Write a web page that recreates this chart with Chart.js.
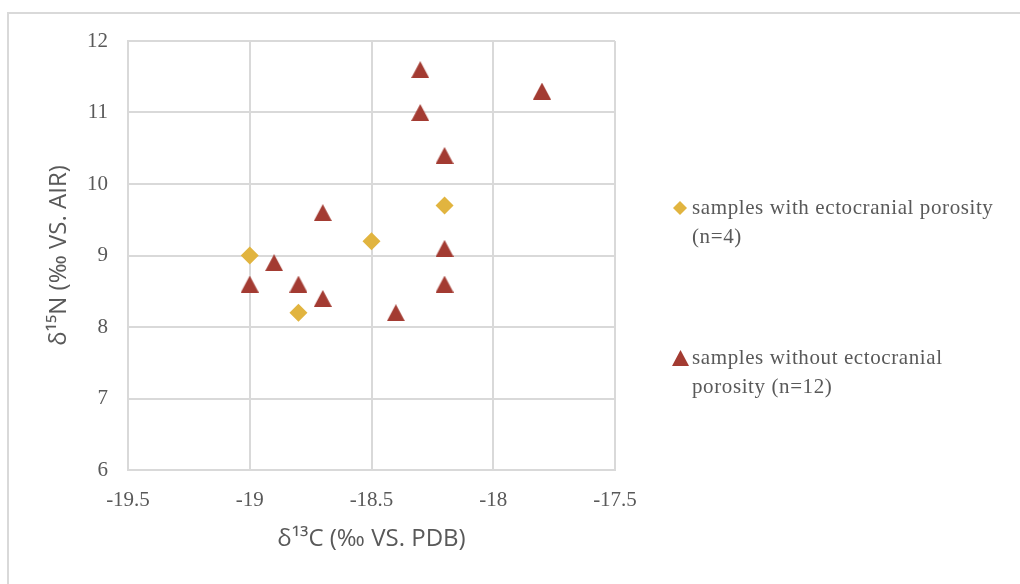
<!DOCTYPE html>
<html>
<head>
<meta charset="utf-8">
<script src="https://cdn.jsdelivr.net/npm/chart.js@4.4.1/dist/chart.umd.min.js"></script>
<style>
  html, body { margin: 0; padding: 0; background: #fff; overflow: hidden; }
  #wrap { position: relative; width: 1020px; height: 584px; overflow: hidden; }
  #frame { position: absolute; left: 7px; top: 12px; width: 1100px; height: 700px;
           border-left: 2px solid #d9d9d9; border-top: 2px solid #d9d9d9; }
  #myChart { position: absolute; left: 0; top: 0; }
  #legend { position: absolute; left: 668px; top: 0; font-family: "Liberation Serif", serif;
            font-size: 21px; letter-spacing: 0.6px; color: #595959; }
  .leg-item { position: absolute; left: 0; width: 345px; }
  .leg-item img { position: absolute; }
  .leg-item span { display: block; margin-left: 24px; width: 312px; line-height: 29px; }
</style>
</head>
<body>
<div id="wrap">
  <div id="frame"></div>
  <canvas id="myChart" width="1020" height="584"></canvas>
  <div id="legend"></div>
</div>
<script>
const seriesNames = ['samples with ectocranial porosity (n=4)', 'samples without ectocranial porosity (n=12)'];
const seriesColors = ['#e1b43f', '#a33b32'];

// delta 13C (x) and delta 15N (y)
const porousC = [-19.0, -18.8, -18.5, -18.2];
const porousN = [9.0, 8.2, 9.2, 9.7];
const plainC = [-18.3, -17.8, -18.3, -18.2, -18.7, -18.2, -18.9, -19.0, -18.8, -18.2, -18.7, -18.4];
const plainN = [11.6, 11.3, 11.0, 10.4, 9.6, 9.1, 8.9, 8.6, 8.6, 8.6, 8.4, 8.2];

const xTicks = [-19.5, -19, -18.5, -18, -17.5];
const yTicks = [6, 7, 8, 9, 10, 11, 12];

const xTitle = 'δ¹³C (‰ VS. PDB)';
const yTitle = 'δ¹⁵N (‰ VS. AIR)';

function makeTriangle(w, h, color) {
  const c = document.createElement('canvas');
  c.width = w; c.height = h;
  const g = c.getContext('2d');
  g.fillStyle = color;
  g.beginPath();
  g.moveTo(w / 2, 0);
  g.lineTo(w, h);
  g.lineTo(0, h);
  g.closePath();
  g.fill();
  return c;
}

function makeDiamond(s, color) {
  const c = document.createElement('canvas');
  c.width = s; c.height = s;
  const g = c.getContext('2d');
  g.fillStyle = color;
  g.beginPath();
  g.moveTo(s / 2, 0);
  g.lineTo(s, s / 2);
  g.lineTo(s / 2, s);
  g.lineTo(0, s / 2);
  g.closePath();
  g.fill();
  return c;
}

const triMark = makeTriangle(18, 17, seriesColors[1]);

const toPoints = (xs, ys) => xs.map((x, i) => ({ x: x, y: ys[i] }));

const tickFont = { family: '"Liberation Serif", serif', size: 21 };
const titleFont = { family: '"Open Sans", sans-serif', size: 24 };
const gridStyle = { color: '#d9d9d9', lineWidth: 2, drawTicks: false };
const borderStyle = { display: true, color: '#d9d9d9', width: 2 };

const ctx = document.getElementById('myChart');

new Chart(ctx, {
  type: 'scatter',
  data: {
    datasets: [{
      label: seriesNames[0],
      data: toPoints(porousC, porousN),
      pointStyle: 'rectRot',
      pointRadius: 9,
      backgroundColor: seriesColors[0],
      borderWidth: 0
    }, {
      label: seriesNames[1],
      data: toPoints(plainC, plainN),
      pointStyle: triMark,
      pointRadius: 9,
      backgroundColor: seriesColors[1],
      borderWidth: 0
    }]
  },
  options: {
    responsive: false,
    animation: false,
    layout: { padding: { top: 41, right: 405, bottom: 0, left: 0 } },
    plugins: { legend: { display: false }, tooltip: { enabled: false } },
    scales: {
      x: {
        type: 'linear',
        min: xTicks[0],
        max: xTicks[xTicks.length - 1],
        afterBuildTicks: s => { s.ticks = xTicks.map(v => ({ value: v })) },
        afterFit: s => { s.height = 114 },
        grid: gridStyle,
        border: borderStyle,
        ticks: { color: '#595959', font: tickFont, padding: 18, callback: v => String(v) },
        title: { display: true, text: xTitle, color: '#595959', font: titleFont, padding: { top: 0, bottom: 30 } }
      },
      y: {
        type: 'linear',
        min: yTicks[0],
        max: yTicks[yTicks.length - 1],
        afterBuildTicks: s => { s.ticks = yTicks.map(v => ({ value: v })) },
        afterFit: s => { s.width = 128 },
        grid: gridStyle,
        border: borderStyle,
        ticks: { color: '#595959', font: tickFont, padding: 20, callback: v => String(v) },
        title: { display: true, text: yTitle, color: '#595959', font: titleFont, padding: { top: 45, bottom: 0 } }
      }
    }
  }
});

// legend built from the dataset labels
const legendEl = document.getElementById('legend');
const legendMarks = [makeDiamond(14, seriesColors[0]), makeTriangle(17, 16, seriesColors[1])];
const legendTops = [193, 343];

seriesNames.forEach((name, i) => {
  const item = document.createElement('div');
  item.className = 'leg-item';
  item.style.top = legendTops[i] + 'px';
  const img = document.createElement('img');
  img.src = legendMarks[i].toDataURL();
  img.style.left = (12 - legendMarks[i].width / 2) + 'px';
  img.style.top = (15 - legendMarks[i].height / 2) + 'px';
  const txt = document.createElement('span');
  txt.textContent = name;
  item.appendChild(img);
  item.appendChild(txt);
  legendEl.appendChild(item);
});
</script>
</body>
</html>
